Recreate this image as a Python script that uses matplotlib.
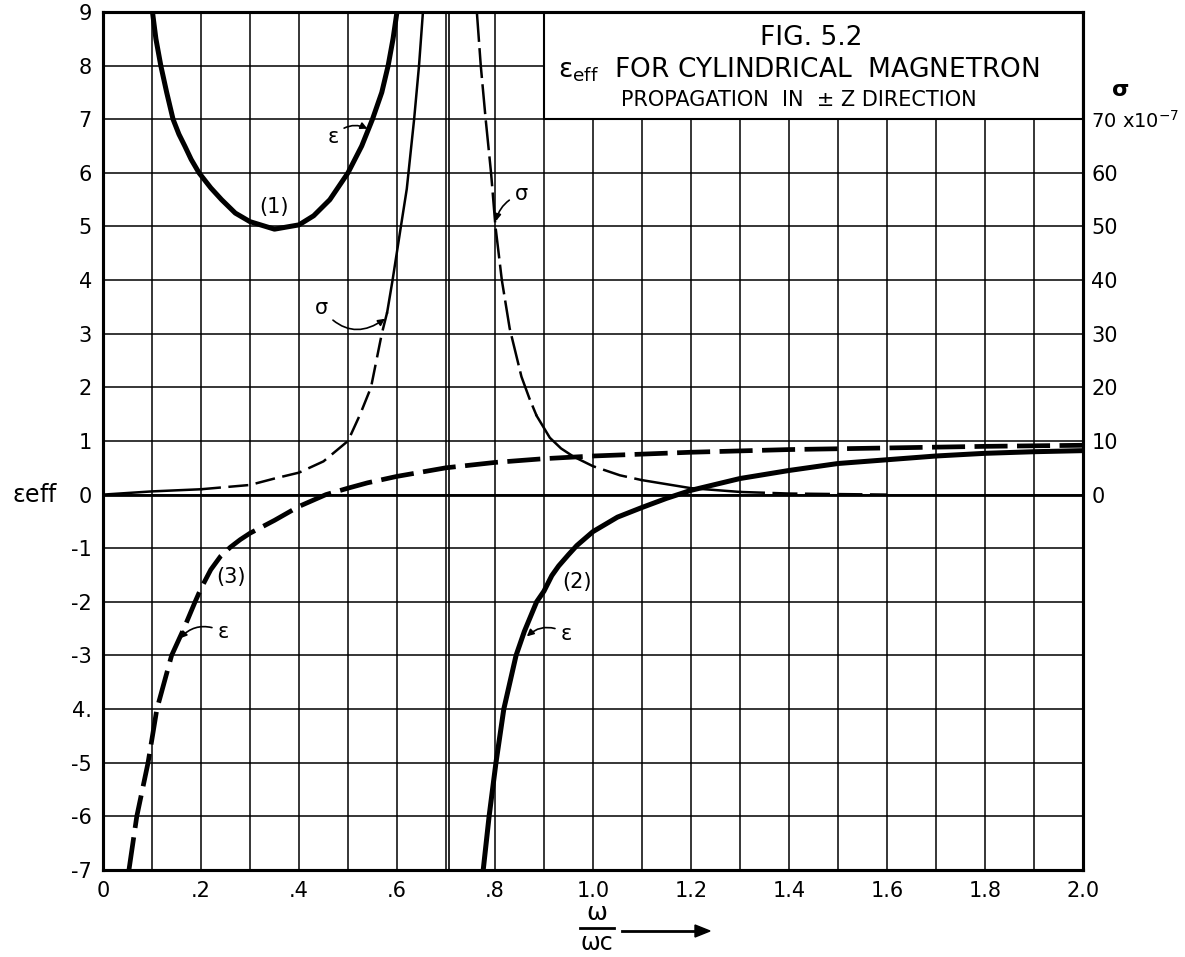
import matplotlib.pyplot as plt
import numpy as np
from matplotlib.patches import Rectangle

plt.rcParams['font.family'] = ['DejaVu Sans']

# Curve (1): eps, thick solid
eps1_x = [0.101, 0.108, 0.118, 0.130, 0.143, 0.155, 0.167, 0.18, 0.196, 0.22, 0.242, 0.27,
          0.30, 0.35, 0.40, 0.43, 0.463, 0.50, 0.528, 0.55, 0.569, 0.582, 0.592, 0.60]
eps1_y = [9.0, 8.5, 8.0, 7.5, 7.0, 6.72, 6.5, 6.25, 6.0, 5.72, 5.5, 5.25,
          5.09, 4.95, 5.03, 5.2, 5.5, 6.0, 6.5, 7.0, 7.5, 8.0, 8.5, 9.0]

# Curve (2): eps, thick solid
eps2_x = [0.776, 0.788, 0.802, 0.818, 0.843, 0.86, 0.885, 0.9, 0.916, 0.93, 0.95, 0.967,
          1.0, 1.05, 1.1, 1.15, 1.2, 1.3, 1.4, 1.5, 1.6, 1.7, 1.8, 1.9, 2.0]
eps2_y = [-7, -6, -5, -4, -3, -2.55, -2, -1.8, -1.51, -1.33, -1.12, -0.95,
          -0.69, -0.42, -0.24, -0.07, 0.08, 0.3, 0.45, 0.58, 0.65, 0.72, 0.77, 0.8, 0.82]

# Curve (3): eps, thick dashed
eps3_x = [0.053, 0.069, 0.092, 0.11, 0.14, 0.165, 0.188, 0.2, 0.22, 0.24, 0.26, 0.28, 0.3,
          0.35, 0.4, 0.455, 0.5, 0.54, 0.6, 0.7, 0.8, 0.9, 1.0, 1.2, 1.4, 1.6, 1.8, 2.0]
eps3_y = [-7, -6, -5, -4, -3, -2.5, -2, -1.75, -1.4, -1.15, -0.98, -0.84, -0.72,
          -0.48, -0.22, 0.0, 0.12, 0.22, 0.34, 0.5, 0.6, 0.67, 0.72, 0.79, 0.84, 0.87, 0.9, 0.92]

# sigma (x10^-7), left and right branches
sig_l_x = [0, 0.1, 0.2, 0.3, 0.35, 0.4, 0.45, 0.5, 0.525, 0.547, 0.569, 0.58, 0.591,
           0.608, 0.62, 0.635, 0.645, 0.653]
sig_l_y = [0, 0.6, 1.0, 1.8, 3.0, 4.1, 6.2, 10, 15, 20, 30, 34, 40, 50, 57, 70, 80, 90]
sig_r_x = [0.763, 0.771, 0.781, 0.792, 0.801, 0.814, 0.83, 0.854, 0.87, 0.885, 0.912, 0.935,
           0.96, 1.0, 1.055, 1.1, 1.2, 1.3, 1.4, 1.5, 1.6]
sig_r_y = [90, 80, 70, 60, 50, 40, 31, 22, 18, 14.7, 10.6, 8.6, 7.1, 5.3, 3.6, 2.7, 1.2, 0.5,
           0.2, 0.1, 0.0]

x_ticks = [0, 0.2, 0.4, 0.6, 0.8, 1.0, 1.2, 1.4, 1.6, 1.8, 2.0]
x_labels = ['0', '.2', '.4', '.6', '.8', '1.0', '1.2', '1.4', '1.6', '1.8', '2.0']
y_ticks = list(range(-7, 10))
y_labels = ['-7', '-6', '-5', '4.', '-3', '-2', '-1', '0', '1', '2', '3', '4', '5',
            '6', '7', '8', '9']
sig_ticks = [0, 10, 20, 30, 40, 50, 60, 70]
sig_labels = ['0', '10', '20', '30', '40', '50', '60', r'70 x10$^{-7}$']

fig = plt.figure(figsize=(11.85, 9.57), dpi=100)
ax = fig.add_axes([0.0869, 0.0909, 0.827, 0.8966])
ax.set_xlim(0, 2.0)
ax.set_ylim(-7, 9)
ax.set_xticks(x_ticks)
ax.set_xticklabels(x_labels)
ax.set_xticks(np.arange(0.1, 2.0, 0.2), minor=True)
ax.set_yticks(y_ticks)
ax.set_yticklabels(y_labels)
ax.grid(which='both', color='black', lw=1.1)
ax.set_axisbelow(True)
ax.tick_params(which='both', length=0, labelsize=15, pad=8)
for s in ax.spines.values():
    s.set_linewidth(2.2)
ax.axhline(0, color='black', lw=2.0, zorder=0.7)
ax.axvline(1 / np.sqrt(2), color='black', lw=1.2, zorder=0.7)

# title box
ax.add_patch(Rectangle((0.9, 7), 1.1, 2.0, facecolor='white', edgecolor='black',
                       lw=1.5, zorder=1.5))
ax.text(1.445, 8.52, "FIG. 5.2", ha='center', va='center', fontsize=19, zorder=3)
ax.text(1.42, 7.93, r"$\mathrm{\varepsilon_{eff}}$  FOR CYLINDRICAL  MAGNETRON",
        ha='center', va='center', fontsize=19, zorder=3)
ax.text(1.42, 7.36, "PROPAGATION  IN  \u00b1 Z DIRECTION", ha='center', va='center',
        fontsize=15, zorder=3)

# eps curves
ax.plot(eps1_x, eps1_y, color='black', lw=3.6, zorder=4)
ax.plot(eps2_x, eps2_y, color='black', lw=3.6, zorder=4)
ax.plot(eps3_x, eps3_y, color='black', lw=3.4, dashes=(7, 2), zorder=4)

# sigma on right axis
ax2 = ax.twinx()
ax2.set_ylim(-70, 90)
ax2.set_yticks(sig_ticks)
ax2.set_yticklabels(sig_labels)
ax2.tick_params(length=0, labelsize=15, pad=6)
ax2.get_yticklabels()[-1].set_fontsize(14)
for s in ax2.spines.values():
    s.set_linewidth(2.2)

slx = np.array(sig_l_x)
sly = np.array(sig_l_y)
m1 = slx <= 0.2
m2 = (slx >= 0.2) & (slx <= 0.58)
m3 = slx >= 0.58
ax2.plot(slx[m1], sly[m1], color='black', lw=1.8)
ax2.plot(slx[m2], sly[m2], color='black', lw=1.8, dashes=(8, 3))
ax2.plot(slx[m3], sly[m3], color='black', lw=1.8)

srx = np.array(sig_r_x)
sry = np.array(sig_r_y)
r1 = srx <= 0.885
r2 = (srx >= 0.885) & (srx <= 0.96)
r3 = (srx >= 0.96) & (srx <= 1.1)
r4 = (srx >= 1.1) & (srx <= 1.3)
r5 = srx >= 1.3
ax2.plot(srx[r1], sry[r1], color='black', lw=1.8, dashes=(12, 2.5))
ax2.plot(srx[r2], sry[r2], color='black', lw=1.8)
ax2.plot(srx[r3], sry[r3], color='black', lw=1.8, dashes=(10, 3))
ax2.plot(srx[r4], sry[r4], color='black', lw=1.8)
ax2.plot(srx[r5], sry[r5], color='black', lw=1.8, dashes=(10, 3))

ax.text(1.03, 7.54, "\u03c3", transform=ax.get_yaxis_transform(), fontsize=16,
        fontweight='bold', ha='left', va='center')

# labels on curves
arrow = dict(arrowstyle='-|>', color='black', lw=1.2, mutation_scale=10)
ax.text(0.35, 5.36, "(1)", ha='center', va='center', fontsize=15, zorder=5)
ax.text(0.968, -1.63, "(2)", ha='center', va='center', fontsize=15, zorder=5)
ax.text(0.262, -1.53, "(3)", ha='center', va='center', fontsize=15, zorder=5)
ax.annotate("\u03b5", xy=(0.545, 6.8), xytext=(0.47, 6.67), fontsize=15, ha='center',
            va='center', zorder=5,
            arrowprops=dict(arrow, connectionstyle='arc3,rad=-0.4'))
ax.annotate("\u03c3", xy=(0.58, 3.31), xytext=(0.446, 3.48), fontsize=15, ha='center',
            va='center', zorder=5,
            arrowprops=dict(arrow, connectionstyle='arc3,rad=0.5'))
ax.annotate("\u03c3", xy=(0.801, 5.05), xytext=(0.853, 5.6), fontsize=15, ha='center',
            va='center', zorder=5,
            arrowprops=dict(arrow, connectionstyle='arc3,rad=0.3'))
ax.annotate("\u03b5", xy=(0.153, -2.72), xytext=(0.245, -2.56), fontsize=15, ha='center',
            va='center', zorder=5,
            arrowprops=dict(arrow, connectionstyle='arc3,rad=0.4'))
ax.annotate("\u03b5", xy=(0.861, -2.68), xytext=(0.945, -2.59), fontsize=15, ha='center',
            va='center', zorder=5,
            arrowprops=dict(arrow, connectionstyle='arc3,rad=0.4'))

# axis labels
ax.text(-0.069, 0, r"$\mathrm{\varepsilon}$eff", transform=ax.get_yaxis_transform(),
        fontsize=17, ha='center', va='center')
fig.text(597 / 1185, 1 - 913 / 957, "\u03c9", fontsize=18, ha='center', va='center')
fig.text(597 / 1185, 1 - 943 / 957, "\u03c9c", fontsize=17, ha='center', va='center')
fig.add_artist(plt.Line2D([580 / 1185, 614 / 1185], [1 - 928 / 957, 1 - 928 / 957],
                          color='black', lw=2))
fig.add_artist(plt.Line2D([622 / 1185, 695 / 1185], [1 - 931 / 957, 1 - 931 / 957],
                          color='black', lw=2))
fig.patches.append(plt.Polygon([[695 / 1185, 1 - 925 / 957], [710 / 1185, 1 - 931 / 957],
                                [695 / 1185, 1 - 937 / 957]], closed=True,
                               color='black', transform=fig.transFigure, figure=fig))

fig.savefig("out.png", dpi=100)
